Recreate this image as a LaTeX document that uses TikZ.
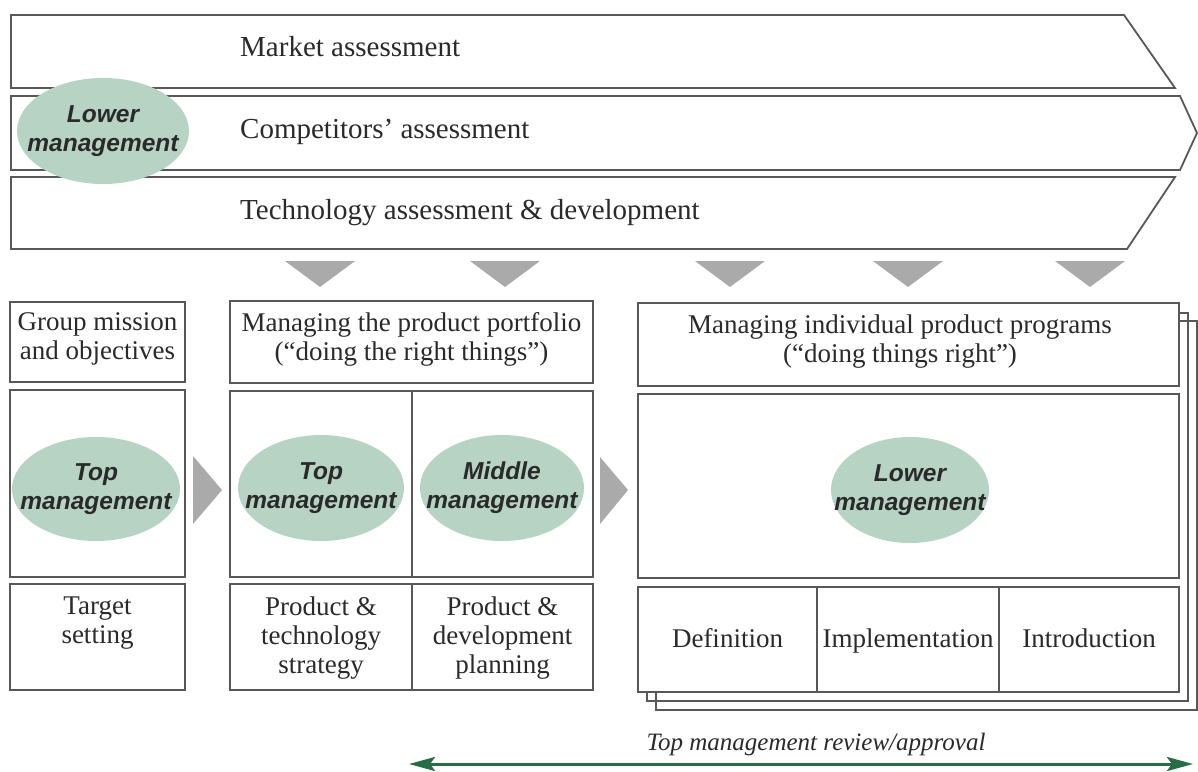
\documentclass[tikz,border=0pt]{standalone}
\usepackage{fontspec}
\setmainfont{Liberation Serif}
\setsansfont{Liberation Sans}
\usetikzlibrary{arrows.meta,shapes.geometric,fit}

\definecolor{sage}{RGB}{182,211,196}
\definecolor{rule}{RGB}{88,88,88}
\definecolor{ink}{RGB}{42,42,42}
\definecolor{chevron}{RGB}{170,170,170}
\definecolor{forest}{RGB}{38,108,68}

\tikzset{
  panel/.style={draw=rule, line width=1.8pt, fill=white, inner sep=0pt},
  band/.style={draw=rule, line width=1.8pt, fill=white, line join=miter},
  stack/.style={draw=rule, line width=1.6pt},
  level/.style={ellipse, fill=sage, inner sep=0pt, outer sep=0pt},
  leveltxt/.style={inner sep=0pt, text=ink, align=center,
    font=\sffamily\bfseries\itshape\fontsize{24.5}{29}\selectfont},
  lbl/.style={font=\fontsize{27}{29}\selectfont, text=ink, align=center, inner sep=0pt},
  bandlbl/.style={font=\fontsize{29}{32}\selectfont, text=ink, anchor=base west, inner sep=0pt},
  flow/.style={fill=chevron},
  review/.style={draw=forest, line width=3pt,
    {Stealth[length=26pt,width=14pt,inset=5pt]}-{Stealth[length=26pt,width=14pt,inset=5pt]}},
}

\begin{document}
\begin{tikzpicture}[x=1pt,y=-1pt]
\useasboundingbox (0,0) rectangle (1198,771);
\fill[white] (0,0) rectangle (1198,771);

% assessment bands
\draw[band] (11,15) -- (1124,15) -- (1175,88) -- (11,88) -- cycle;
\draw[band] (11,96) -- (1180,96) -- (1197,133) -- (1180,170) -- (11,170) -- cycle;
\draw[band] (11,177) -- (1175,177) -- (1127,249) -- (11,249) -- cycle;
\node[bandlbl] (mkt) at (240,56) {Market assessment};
\node[bandlbl] (comp) at (240,138) {Competitors’ assessment};
\node[bandlbl] (tech) at (240,219) {Technology assessment \& development};
\node[level, minimum width=172pt, minimum height=106pt] (lowA) at (103,131) {};
\node[leveltxt] (lowAtxt) at (lowA.center) {Lower\\management};

% downward flow markers
\foreach \cx in {320,505,730,908,1090}
  \fill[flow] (\cx-35,261) -- (\cx+35,261) -- (\cx,287) -- cycle;

% stage-to-stage flow markers
\fill[flow] (193,456) -- (222,490) -- (193,524) -- cycle;
\fill[flow] (600,457) -- (628,490) -- (600,524) -- cycle;

% group mission column
\node[panel, fit={(10,302) (185,382)}] (gm) {};
\node[panel, fit={(10,390) (185,577)}] (gmMid) {};
\node[panel, fit={(10,584) (185,690)}] (gmBot) {};
\node[lbl] (gmTxt) at (97.5,339) {Group mission\\and objectives};
\node[level, minimum width=168pt, minimum height=104pt] (topA) at (96,489) {};
\node[leveltxt] (topAtxt) at (topA.center) {Top\\management};
\node[lbl, anchor=north] (tsTxt) at (97.5,597) {Target\\setting};

% product portfolio column
\node[panel, fit={(230,301) (593,383)}] (pp) {};
\node[panel, fit={(230,391) (412,577)}] (ppL) {};
\node[panel, fit={(412,391) (593,577)}] (ppR) {};
\node[panel, fit={(230,584) (412,690)}] (ptL) {};
\node[panel, fit={(412,584) (593,690)}] (ptR) {};
\node[lbl] (ppTxt) at (411.5,339) {Managing the product portfolio\\(“doing the right things”)};
\node[level, minimum width=166pt, minimum height=106pt] (topB) at (321,488) {};
\node[leveltxt] (topBtxt) at (topB.center) {Top\\management};
\node[level, minimum width=164pt, minimum height=106pt] (midB) at (502,488) {};
\node[leveltxt] (midBtxt) at (midB.center) {Middle\\management};
\node[lbl, anchor=north] (ptLTxt) at (321,597) {Product \&\\technology\\strategy};
\node[lbl, anchor=north] (ptRTxt) at (502.5,597) {Product \&\\development\\planning};

% product programs column (stacked)
\draw[stack] (1179,321) -- (1197,321) -- (1197,710) -- (656,710) -- (656,693);
\draw[stack] (1179,313) -- (1188,313) -- (1188,701) -- (647,701) -- (647,693);
\node[panel, fit={(638,303) (1179,386)}] (ip) {};
\node[panel, fit={(638,394) (1179,578)}] (ipMid) {};
\node[panel, fit={(638,587) (817,692)}] (def) {};
\node[panel, fit={(817,587) (999,692)}] (imp) {};
\node[panel, fit={(999,587) (1179,692)}] (intro) {};
\node[lbl] (ipTxt) at (900,342) {Managing individual product programs\\(“doing things right”)};
\node[level, minimum width=158pt, minimum height=106pt] (lowC) at (910,490) {};
\node[leveltxt] (lowCtxt) at (lowC.center) {Lower\\management};
\node[lbl, anchor=base] (defTxt) at (727.5,647) {Definition};
\node[lbl, anchor=base] (impTxt) at (908,647) {Implementation};
\node[lbl, anchor=base] (introTxt) at (1089,647) {Introduction};

% review span
\coordinate (revL) at (409,764);
\coordinate (revR) at (1193,764);
\draw[review] (revL) -- (revR);
\node[font=\itshape\fontsize{25}{28}\selectfont, text=ink, anchor=base, inner sep=0pt] (revTxt) at (816,750) {Top management review/approval};
\end{tikzpicture}
\end{document}
